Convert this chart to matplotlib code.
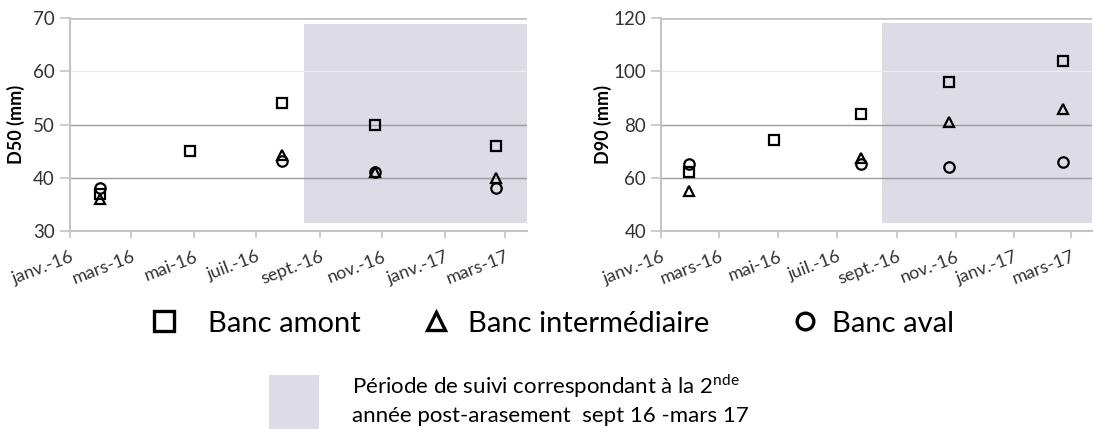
import matplotlib
matplotlib.use("Agg")
import matplotlib.pyplot as plt
import numpy as np
from matplotlib.lines import Line2D
from matplotlib.patches import Rectangle

plt.rcParams['font.family'] = ['Lato', 'DejaVu Sans']

# sampling campaigns
dates = np.array(['2016-01-30', '2016-04-27', '2016-07-26', '2016-10-25', '2017-02-20'],
                 dtype='datetime64[D]')

# D50 (mm) per bank, nan where no sample
d50_amont = [37, 45, 54, 50, 46]
d50_inter = [36, np.nan, 44.3, 41, 40]
d50_aval = [38, np.nan, 43.2, 41.1, 38]

# D90 (mm) per bank
d90_amont = [62, 74, 84, 96, 104]
d90_inter = [55, np.nan, 67.2, 81, 86]
d90_aval = [65, np.nan, 65, 64, 66]

tick_dates = np.array(['2016-01-01', '2016-03-01', '2016-05-01', '2016-07-01',
                       '2016-09-01', '2016-11-01', '2017-01-01', '2017-03-01'],
                      dtype='datetime64[D]')
tick_labels = ['janv.-16', 'mars-16', 'mai-16', 'juil.-16',
               'sept.-16', 'nov.-16', 'janv.-17', 'mars-17']
x_end = np.datetime64('2017-03-22')

# second monitoring year (sept 16 - mars 17)
shade_start = np.datetime64('2016-08-17')
d50_shade = (31.5, 69)
d90_shade = (42.8, 118.3)

shade_col = '#dcdbe6'
grid_cols = ['#c4c4c4', '#9c9c9c', '#9c9c9c', '#ececec', '#c4c4c4']

fig = plt.figure(figsize=(10.94, 4.29), dpi=100)
ax1 = fig.add_axes([70 / 1094, 1 - 230.7 / 429, 456.7 / 1094, 212.4 / 429])
ax2 = fig.add_axes([661.3 / 1094, 1 - 230.7 / 429, 430.4 / 1094, 212.4 / 429])


def draw_panel(ax, amont, inter, aval, ylim, yticks, shade, ylabel, label_x):
    ax.fill_between([shade_start, x_end], shade[0], shade[1], color=shade_col,
                    lw=0, zorder=0.3)
    mk = dict(ls='none', mfc='none', mec='black', mew=1.6, zorder=3)
    ax.plot(dates, inter, marker='^', ms=7.5, **mk)
    ax.plot(dates, aval, marker='o', ms=7.5, **mk)
    ax.plot(dates, amont, marker='s', ms=7.5, **mk)

    ax.set_xlim(tick_dates[0], x_end)
    ax.set_ylim(*ylim)
    ax.set_yticks(yticks)
    ax.set_xticks(tick_dates)
    ax.set_xticklabels(tick_labels, rotation=21, ha='right', va='top',
                       rotation_mode='anchor')

    ax.set_axisbelow(True)
    ax.yaxis.grid(True, lw=1)
    for gl, c in zip(ax.get_ygridlines(), grid_cols):
        gl.set_color(c)
    ax.get_ygridlines()[-1].set_linewidth(2)

    for s in ['top', 'right']:
        ax.spines[s].set_visible(False)
    for s in ['left', 'bottom']:
        ax.spines[s].set_color('#c4c4c4')
        ax.spines[s].set_linewidth(1.5)

    ax.tick_params(axis='y', length=7, width=1.2, color='#c4c4c4', pad=4,
                   labelsize=13.5, labelcolor='#333333')
    ax.tick_params(axis='x', length=5, width=1.2, color='#c4c4c4', pad=8,
                   labelsize=13, labelcolor='#333333')
    ax.set_ylabel(ylabel, fontsize=13, fontweight='bold')
    ax.yaxis.set_label_coords(label_x, 0.5)


draw_panel(ax1, d50_amont, d50_inter, d50_aval, (30, 70), [30, 40, 50, 60, 70],
           d50_shade, 'D50 (mm)', -0.098)
draw_panel(ax2, d90_amont, d90_inter, d90_aval, (40, 120), [40, 60, 80, 100, 120],
           d90_shade, 'D90 (mm)', -0.115)

# marker legend
W, H = 1094, 429
leg = [('s', 15, 164, 208, 'Banc amont'),
       ('^', 13, 435.5, 468, 'Banc intermédiaire'),
       ('o', 12, 805, 832, 'Banc aval')]
for m, ms, mx, tx, lab in leg:
    fig.add_artist(Line2D([mx / W], [1 - 321 / H], marker=m, ms=ms, mfc='none',
                          mec='black', mew=2.4, ls='none',
                          transform=fig.transFigure))
    fig.text(tx / W, 1 - 331.7 / H, lab, fontsize=21, va='baseline', ha='left')

# shading legend
fig.add_artist(Rectangle((269.3 / W, 0), 50 / W, (429 - 375) / H,
                         color=shade_col, lw=0, transform=fig.transFigure))
fig.text(352 / W, 1 - 394 / H,
         r'Période de suivi correspondant à la 2$^{\mathregular{nde}}$',
         fontsize=16, va='baseline', ha='left')
fig.text(352 / W, 1 - 421.7 / H, 'année post-arasement  sept 16 -mars 17',
         fontsize=16, va='baseline', ha='left')

fig.savefig('out.png', dpi=100)
